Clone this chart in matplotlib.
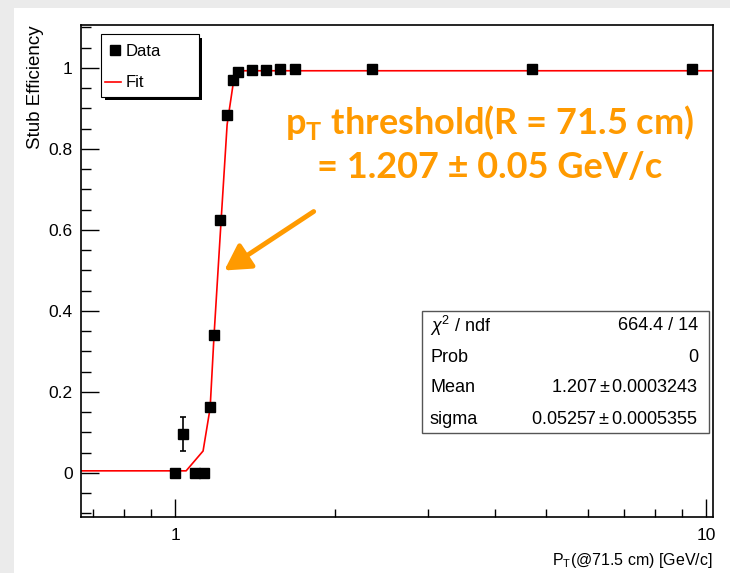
import numpy as np
import matplotlib
matplotlib.use("Agg")
import matplotlib.pyplot as plt
from matplotlib.patches import Rectangle, FancyArrowPatch
from matplotlib.ticker import FixedLocator, NullFormatter

plt.rcParams['font.family'] = ['Liberation Sans', 'DejaVu Sans']
plt.rcParams['mathtext.fontset'] = 'custom'
plt.rcParams['mathtext.rm'] = 'Liberation Sans'
plt.rcParams['mathtext.it'] = 'Liberation Sans:italic'
plt.rcParams['mathtext.bf'] = 'Lato:bold'

pt = [1.0, 1.035, 1.09, 1.134, 1.164, 1.184, 1.215, 1.253, 1.286, 1.314,
      1.396, 1.483, 1.577, 1.683, 2.35, 4.70, 9.39]
eff = [0.0, 0.096, 0.0, 0.0, 0.163, 0.34, 0.625, 0.884, 0.97, 0.99,
       0.995, 0.995, 0.998, 0.998, 0.998, 0.998, 0.998]
eff_err = [0, 0.042, 0, 0, 0, 0, 0, 0, 0, 0, 0, 0, 0, 0, 0, 0, 0]

# fit curve as drawn
fit_x = [0.66, 1.049, 1.129, 1.164, 1.184, 1.221, 1.253, 1.286, 1.343, 10.3]
fit_y = [0.005, 0.005, 0.054, 0.16, 0.34, 0.625, 0.86, 0.96, 0.993, 0.993]

stats_names = [r'$\chi^{2}$ / ndf', 'Prob', 'Mean', 'sigma']
stats_vals = ['664.4 / 14', '0', r'$1.207 \pm 0.0003243$', r'$0.05257 \pm 0.0005355$']

W, H = 730, 573
fig = plt.figure(figsize=(W / 100, H / 100), dpi=100, facecolor='#ebebeb')
fig.patches.append(Rectangle((14 / W, 0), 1, 1 - 8 / H, transform=fig.transFigure,
                             facecolor='white', edgecolor='none', zorder=-1))

def fx(px):
    return px / W

def fy(py):
    return 1 - py / H

ax = fig.add_axes([fx(81), fy(517), fx(713) - fx(81), fy(25) - fy(517)])
ax.set_xscale('log')
ax.set_xlim(0.665, 10.3)
ax.set_ylim(-0.109, 1.106)

ax.errorbar(pt, eff, yerr=eff_err, fmt='s', color='black', ms=7.5,
            elinewidth=1.2, capsize=2.5, capthick=1.2, zorder=3)
ax.plot(fit_x, fit_y, color='red', lw=1.2, zorder=2)

for s in ax.spines.values():
    s.set_linewidth(1.2)
ax.xaxis.set_major_locator(FixedLocator([1, 10]))
ax.xaxis.set_minor_locator(FixedLocator([0.7, 0.8, 0.9, 2, 3, 4, 5, 6, 7, 8, 9]))
ax.xaxis.set_minor_formatter(NullFormatter())
ax.set_xticklabels(['1', '10'])
ax.set_yticks([0, 0.2, 0.4, 0.6, 0.8, 1.0])
ax.set_yticklabels(['0', '0.2', '0.4', '0.6', '0.8', '1'])
ax.set_yticks(np.arange(-0.1, 1.11, 0.05), minor=True)
ax.tick_params(which='both', direction='in', labelsize=12.5)
ax.tick_params(axis='x', which='major', length=13, width=1, pad=8)
ax.tick_params(axis='x', which='minor', length=6, width=1)
ax.tick_params(axis='y', which='major', length=13, width=1, pad=6)
ax.tick_params(axis='y', which='minor', length=7, width=1)

fig.text(fx(713), fy(560), r'P$_\mathrm{T}$(@71.5 cm) [GeV/c]', ha='right',
         va='center', fontsize=11.5)
fig.text(fx(35), fy(25), 'Stub Efficiency', rotation=90, ha='center', va='top',
         fontsize=13.5)

# legend box with ROOT style shadow
fig.patches.append(Rectangle((fx(105), fy(100)), fx(202) - fx(105), fy(38) - fy(100),
                             transform=fig.transFigure, facecolor='black',
                             edgecolor='none', zorder=4))
fig.patches.append(Rectangle((fx(101), fy(97)), fx(199) - fx(101), fy(34) - fy(97),
                             transform=fig.transFigure, facecolor='white',
                             edgecolor='black', lw=0.8, zorder=5))
fig.lines.append(plt.Line2D([fx(115)], [fy(50)], marker='s', ms=7.5, color='black',
                            transform=fig.transFigure, zorder=6))
fig.lines.append(plt.Line2D([fx(105), fx(121)], [fy(82), fy(82)], color='red', lw=1.2,
                            transform=fig.transFigure, zorder=6))
fig.text(fx(126), fy(51), 'Data', ha='left', va='center', fontsize=12, zorder=6)
fig.text(fx(126), fy(83), 'Fit', ha='left', va='center', fontsize=12, zorder=6)

# fit statistics box
fig.patches.append(Rectangle((fx(422), fy(433)), fx(709) - fx(422), fy(311) - fy(433),
                             transform=fig.transFigure, facecolor='white',
                             edgecolor='#555555', lw=1.0, zorder=4))
for i, (n, v) in enumerate(zip(stats_names, stats_vals)):
    yy = fy(326 + 31 * i)
    fig.text(fx(430), yy, n, ha='left', va='center', fontsize=13, zorder=6)
    fig.text(fx(698), yy, v, ha='right', va='center', fontsize=13, zorder=6)

orange = '#FF9A00'
fig.text(fx(490), fy(122), r'$\mathbf{p}_{\mathbf{T}}$ threshold(R = 71.5 cm)',
         ha='center', va='center', fontsize=26, color=orange,
         fontfamily='Lato', fontweight='bold')
fig.text(fx(490), fy(167), '= 1.207 ± 0.05 GeV/c', ha='center', va='center',
         fontsize=26, color=orange, fontfamily='Lato', fontweight='bold')

arr = FancyArrowPatch((fx(316), fy(210)), (fx(222), fy(272)), transform=fig.transFigure,
                      arrowstyle='-|>,head_length=7,head_width=4', color=orange,
                      lw=3.5, mutation_scale=2.2, zorder=7)
fig.patches.append(arr)

fig.savefig('out.png', dpi=100, facecolor=fig.get_facecolor())
